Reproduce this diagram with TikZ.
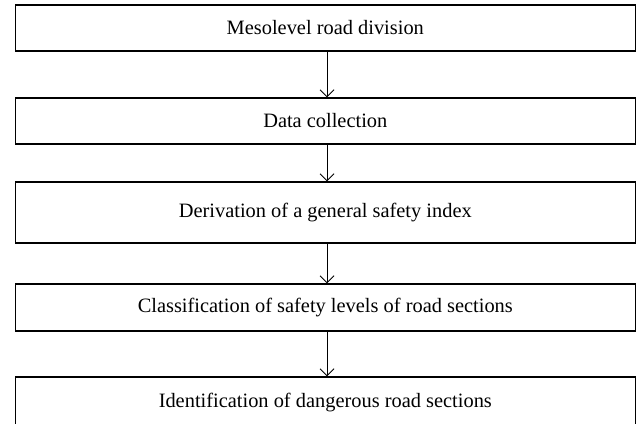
\documentclass[tikz,border=0pt]{standalone}
\usepackage{fontspec}
\setmainfont{Liberation Serif}
\usetikzlibrary{arrows.meta}
\begin{document}
\begin{tikzpicture}[x=1pt,y=-1pt,
  stepbox/.style={draw=black,line width=1.1pt,minimum width=620pt,inner sep=0pt,font=\fontsize{20.4}{23}\selectfont},
  flow/.style={line width=1pt,-{Straight Barb[length=7pt,width=14pt,line width=1pt]}}]
\useasboundingbox (0,0) rectangle (644,423);
\clip (0,0) rectangle (644,423);
\node[stepbox,minimum height=46pt] (b1) at (325.3,28) {Mesolevel road division};
\node[stepbox,minimum height=46pt] (b2) at (325.3,121) {Data collection};
\node[stepbox,minimum height=61pt] (b3) at (325.3,212.5) {Derivation of a general safety index};
\node[stepbox,minimum height=47pt] (b4) at (325.3,307.5) {Classification of safety levels of road sections};
\node[stepbox,minimum height=52pt] (b5) at (325.3,403) {Identification of dangerous road sections};
\draw[flow] ([xshift=1.7pt]b1.south) -- ([xshift=1.7pt]b2.north);
\draw[flow] ([xshift=1.7pt]b2.south) -- ([xshift=1.7pt]b3.north);
\draw[flow] ([xshift=1.7pt]b3.south) -- ([xshift=1.7pt]b4.north);
\draw[flow] ([xshift=1.7pt]b4.south) -- ([xshift=1.7pt]b5.north);
\end{tikzpicture}
\end{document}
